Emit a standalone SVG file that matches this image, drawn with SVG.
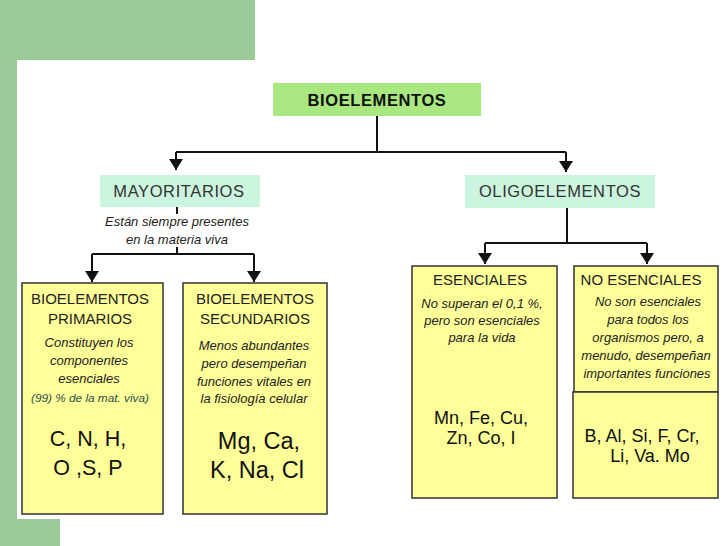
<svg xmlns="http://www.w3.org/2000/svg" width="728" height="546" viewBox="0 0 728 546">
<style>
.bg{fill:#9ccb99}
.box{fill:#ffff99;stroke:#333;stroke-width:1.5}
.mint{fill:#ccf5df}
.lime{fill:#a9e781}
.con{fill:none;stroke:#111;stroke-width:2}
.t{font-family:"Liberation Sans",Arial,sans-serif;text-anchor:middle;fill:#222}
.h{font-size:15px}
.hb{font-size:16.5px;font-weight:bold;fill:#111;letter-spacing:0.6px}
.lg{font-size:16.5px;fill:#333;letter-spacing:0.6px}
.it{font-size:13px;font-style:italic}
.sm{font-size:11.8px;font-style:italic;fill:#1f4e4e}
.big{font-size:21.5px;fill:#111}
.big2{font-size:23.5px;fill:#111}
.mid{font-size:18px;fill:#111}
</style>
<defs>
<marker id="ah" markerUnits="userSpaceOnUse" markerWidth="14" markerHeight="12" refX="7" refY="11" orient="0" viewBox="0 0 14 12">
<path d="M0,0 L14,0 L7,11 Z" fill="#111"/>
</marker>
</defs>
<rect width="728" height="546" fill="#fff"/>
<g id="background">
<rect class="bg" x="0" y="0" width="255" height="60"/>
<rect class="bg" x="0" y="0" width="17" height="546"/>
<rect class="bg" x="0" y="519" width="60" height="27"/>
</g>
<g id="connectors">
<path class="con" d="M377,116 V152 M176,152 H566"/>
<path class="con" d="M176,152 V170" marker-end="url(#ah)"/>
<path class="con" d="M566,152 V172" marker-end="url(#ah)"/>
<path class="con" d="M177,207 V214 M177,247 V254 M92,254 H254"/>
<path class="con" d="M92,254 V282" marker-end="url(#ah)"/>
<path class="con" d="M254,254 V282" marker-end="url(#ah)"/>
<path class="con" d="M567,208 V243 M485,243 H647"/>
<path class="con" d="M485,243 V264" marker-end="url(#ah)"/>
<path class="con" d="M647,243 V264" marker-end="url(#ah)"/>
</g>
<g id="bioelementos">
<rect class="lime" x="273" y="83" width="208" height="33"/>
<text class="t hb" x="377" y="106">BIOELEMENTOS</text>
</g>
<g id="mayoritarios">
<rect class="mint" x="100" y="175" width="160" height="32"/>
<text class="t lg" x="179" y="197">MAYORITARIOS</text>
<text class="t it" x="177" y="226">Están siempre presentes</text>
<text class="t it" x="177" y="244">en la materia viva</text>
</g>
<g id="oligoelementos">
<rect class="mint" x="465" y="175" width="190" height="33"/>
<text class="t lg" x="560" y="197">OLIGOELEMENTOS</text>
</g>
<g id="primarios">
<rect class="box" x="22" y="283" width="141" height="231"/>
<text class="t h" x="90" y="304">BIOELEMENTOS</text>
<text class="t h" x="90" y="324">PRIMARIOS</text>
<text class="t it" x="89" y="347">Constituyen los</text>
<text class="t it" x="89" y="365">componentes</text>
<text class="t it" x="89" y="383">esenciales</text>
<text class="t sm" x="90" y="402">(99) % de la mat. viva)</text>
<text class="t big" x="88" y="446">C, N, H,</text>
<text class="t big" x="88" y="475">O ,S, P</text>
</g>
<g id="secundarios">
<rect class="box" x="183" y="283" width="144" height="231"/>
<text class="t h" x="255" y="304">BIOELEMENTOS</text>
<text class="t h" x="255" y="324">SECUNDARIOS</text>
<text class="t it" x="254" y="350">Menos abundantes</text>
<text class="t it" x="254" y="368">pero desempeñan</text>
<text class="t it" x="254" y="386">funciones vitales en</text>
<text class="t it" x="254" y="403">la fisiología celular</text>
<text class="t big2" x="259" y="449">Mg, Ca,</text>
<text class="t big2" x="257" y="478">K, Na, Cl</text>
</g>
<g id="esenciales">
<rect class="box" x="412" y="266" width="145" height="232"/>
<text class="t h" x="480" y="285">ESENCIALES</text>
<text class="t it" x="482" y="308">No superan el 0,1 %,</text>
<text class="t it" x="482" y="325">pero son esenciales</text>
<text class="t it" x="482" y="342">para la vida</text>
<text class="t mid" x="481" y="424">Mn, Fe, Cu,</text>
<text class="t mid" x="481" y="444">Zn, Co, I</text>
</g>
<g id="no-esenciales">
<rect class="box" x="574" y="266" width="144" height="126"/>
<rect class="box" x="573" y="392" width="145" height="106"/>
<text class="t h" x="641" y="285">NO ESENCIALES</text>
<text class="t it" x="648" y="306">No son esenciales</text>
<text class="t it" x="648" y="324">para todos los</text>
<text class="t it" x="648" y="342">organismos pero, a</text>
<text class="t it" x="646" y="360">menudo, desempeñan</text>
<text class="t it" x="647" y="378">importantes funciones</text>
<text class="t mid" x="642" y="442">B, Al, Si, F, Cr,</text>
<text class="t mid" x="650" y="462">Li, Va. Mo</text>
</g>
</svg>
